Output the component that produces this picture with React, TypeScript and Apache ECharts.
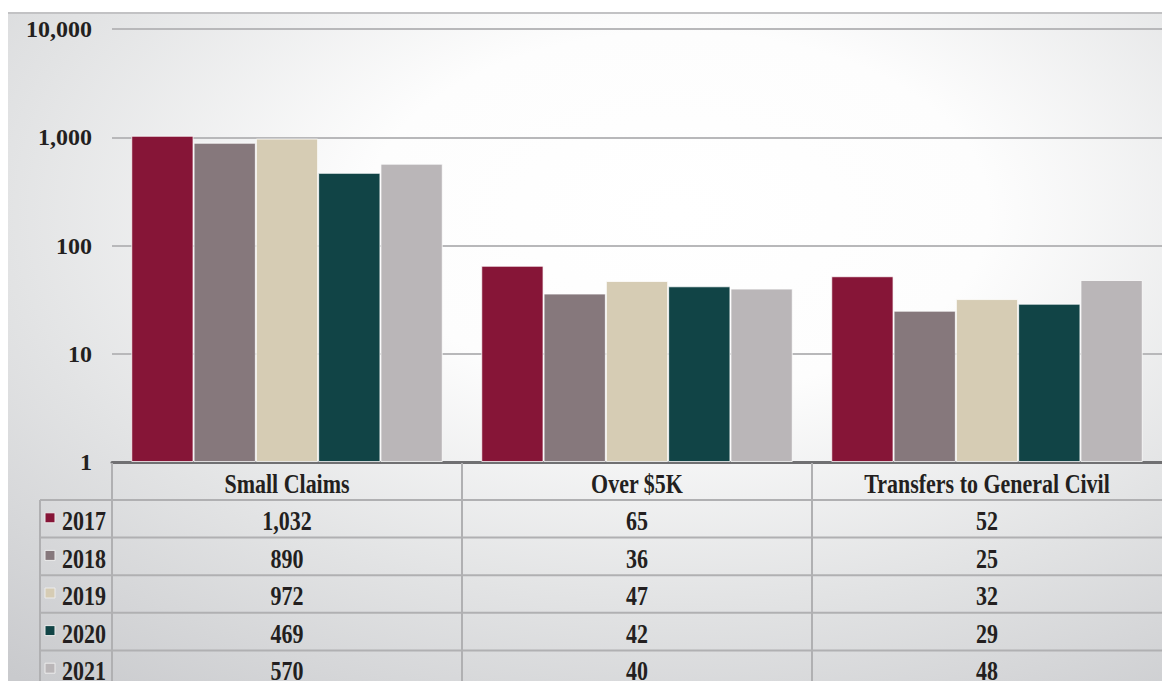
import React, { useEffect, useRef } from "react";
import * as echarts from "echarts";

const categories = ["Small Claims", "Over $5K", "Transfers to General Civil"];
const years = ["2017", "2018", "2019", "2020", "2021"];
const v2017 = [1032, 65, 52];
const v2018 = [890, 36, 25];
const v2019 = [972, 47, 32];
const v2020 = [469, 42, 29];
const v2021 = [570, 40, 48];
const seriesValues = [v2017, v2018, v2019, v2020, v2021];
const yearColors = ["#861537", "#86787c", "#d6ccb4", "#114446", "#bab6b8"];
const yMin = 1;
const yMax = 10000;

const W = 1162;
const H = 681;
const GRID_LEFT = 112;
const GRID_TOP = 29;
const GRID_BOTTOM_Y = 462;
const TABLE_LEFT = 40;
const HEADER_BOTTOM = 500;
const ROW_H = 37.6;
const FONT = "'Liberation Serif', 'Times New Roman', serif";

function fmt(n: number) {
  return Number(n).toLocaleString("en-US");
}

export default function App() {
  const ref = useRef<HTMLDivElement>(null);
  useEffect(() => {
    if (!ref.current) return;
    const chart = echarts.init(ref.current, undefined, { renderer: "svg" });
    const colW = (W - GRID_LEFT) / categories.length;
    const lineColor = "#b0b0b2";
    const graphics: any[] = [];
    graphics.push({
      type: "rect",
      z: -100,
      shape: { x: 8, y: 12, width: W - 8, height: H - 12 },
      style: {
        fill: {
          type: "radial",
          x: 0.58,
          y: 0.3,
          r: 0.9,
          colorStops: [
            { offset: 0, color: "#ffffff" },
            { offset: 0.3, color: "#fdfdfd" },
            { offset: 0.65, color: "#e2e3e4" },
            { offset: 1, color: "#c9cacd" },
          ],
        },
      },
    });
    graphics.push({
      type: "line",
      z: -99,
      shape: { x1: 8, y1: 13, x2: W, y2: 13 },
      style: { stroke: "#c2c2c4", lineWidth: 2 },
    });
    for (let c = 0; c <= categories.length - 1; c++) {
      const x = GRID_LEFT + c * colW;
      graphics.push({
        type: "line",
        z: 5,
        shape: { x1: x, y1: GRID_BOTTOM_Y + 1, x2: x, y2: H },
        style: { stroke: lineColor, lineWidth: 2 },
      });
    }
    graphics.push({
      type: "line",
      z: 5,
      shape: { x1: TABLE_LEFT, y1: HEADER_BOTTOM, x2: TABLE_LEFT, y2: H },
      style: { stroke: lineColor, lineWidth: 2 },
    });
    for (let r = 0; r < years.length; r++) {
      const y = HEADER_BOTTOM + r * ROW_H;
      graphics.push({
        type: "line",
        z: 5,
        shape: { x1: TABLE_LEFT, y1: y, x2: W, y2: y },
        style: { stroke: lineColor, lineWidth: 2 },
      });
    }
    const textStyle = (text: string, align: string) => ({
      text,
      align,
      verticalAlign: "middle",
      fontFamily: FONT,
      fontWeight: "bold",
      fontSize: 22,
      fill: "#231f20",
    });
    categories.forEach((cat, c) => {
      graphics.push({
        type: "text",
        z: 6,
        x: GRID_LEFT + (c + 0.5) * colW,
        y: (GRID_BOTTOM_Y + HEADER_BOTTOM) / 2 + 3,
        scaleY: 1.2,
        style: textStyle(cat, "center"),
      });
    });
    years.forEach((yr, r) => {
      const cy = HEADER_BOTTOM + (r + 0.5) * ROW_H + 2;
      graphics.push({
        type: "rect",
        z: 6,
        shape: { x: 45, y: cy - 8, width: 10, height: 10 },
        style: { fill: yearColors[r], stroke: "#ececec", lineWidth: 1 },
      });
      graphics.push({
        type: "text",
        z: 6,
        x: 62,
        y: cy,
        scaleY: 1.2,
        style: textStyle(yr, "left"),
      });
      categories.forEach((_, c) => {
        graphics.push({
          type: "text",
          z: 6,
          x: GRID_LEFT + (c + 0.5) * colW,
          y: cy,
          scaleY: 1.2,
          style: textStyle(fmt(seriesValues[r][c]), "center"),
        });
      });
    });

    chart.setOption({
      animation: false,
      grid: {
        left: GRID_LEFT,
        right: 0,
        top: GRID_TOP,
        bottom: H - GRID_BOTTOM_Y,
        containLabel: false,
      },
      xAxis: {
        type: "category",
        data: categories,
        axisLine: { show: true, lineStyle: { color: "#707072", width: 3 } },
        axisTick: { show: false },
        axisLabel: { show: false },
      },
      yAxis: {
        type: "log",
        logBase: 10,
        min: yMin,
        max: yMax,
        axisLine: { show: false },
        axisTick: { show: false },
        splitLine: { show: true, lineStyle: { color: "#b8b8ba", width: 2 } },
        axisLabel: {
          formatter: (v: number) => fmt(v),
          fontFamily: FONT,
          fontWeight: "bold",
          fontSize: 24,
          color: "#231f20",
          margin: 20,
        },
      },
      series: years.map((yr, i) => ({
        name: yr,
        type: "bar",
        data: seriesValues[i],
        barGap: "0%",
        barCategoryGap: "11%",
        itemStyle: {
          color: yearColors[i],
          borderColor: "rgba(255,255,255,0.75)",
          borderWidth: 1,
        },
      })),
      graphic: graphics,
    });
    return () => chart.dispose();
  }, []);
  return (
    <div
      ref={ref}
      style={{ position: "fixed", left: 0, top: 0, width: W, height: H, background: "#ffffff" }}
    />
  );
}
